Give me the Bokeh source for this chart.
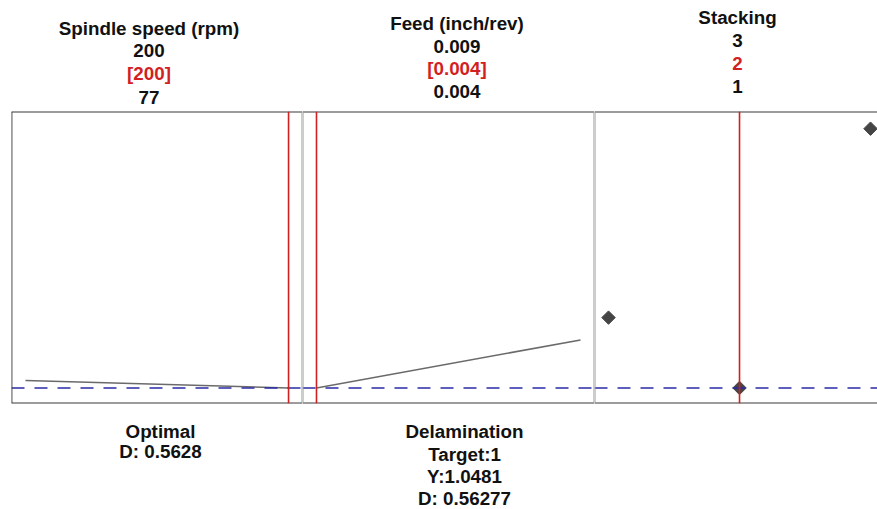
import numpy as np
from bokeh.plotting import figure
from bokeh.models import Range1d, Span, Label
from bokeh.layouts import row, column
from bokeh.embed import file_html
from bokeh.resources import INLINE

# ---------------- data ----------------
spindle_speed = [77, 200]
spindle_delam = [1.0568, 1.0481]
feed_rate = [0.004, 0.009]
feed_delam = [1.0481, 1.104]
stacking = [1, 2, 3]
stacking_delam = [1.130, 1.0481, 1.350]

current_spindle = 200
current_feed = 0.004
current_stacking = 2
current_y = 1.0481

spindle_header = ["Spindle speed (rpm)", "200", "[200]", "77"]
feed_header = ["Feed (inch/rev)", "0.009", "[0.004]", "0.004"]
stacking_header = ["Stacking", "3", "2", "1"]
optimal_lines = ["Optimal", "D: 0.5628"]
response_lines = ["Delamination", "Target:1", "Y:1.0481", "D: 0.56277"]

# ---------------- style / layout ----------------
Y_START, Y_END = 1.03, 1.37
W = 877
HEAD_H = 109
MAIN_H = 296
FOOT_H = 104
FONT = "Liberation Sans"
FSIZE = "18.8px"
BLACK = "#111111"
RED = "#d21f1f"
FRAME_COL = "#3a3a3a"
DIV_COL = "#999999"
CURVE_COL = "#6a6a6a"
DASH_COL = "#2a2aa8"
PT_COL = "#454545"


def bare(width, height, xr, yr, **kw):
    p = figure(width=width, height=height, output_backend="svg", toolbar_location=None,
               x_range=xr, y_range=yr, x_axis_type=None, y_axis_type=None, **kw)
    p.outline_line_color = None
    p.grid.visible = False
    p.background_fill_color = "white"
    p.border_fill_color = "white"
    return p


def make_panel(x_start, x_end, width, border_left):
    p = bare(width, MAIN_H, Range1d(x_start, x_end), Range1d(Y_START, Y_END),
             min_border_left=border_left, min_border_right=0,
             min_border_top=2, min_border_bottom=2)
    for yv in (Y_START, Y_END):
        p.add_layout(Span(location=yv, dimension="width", line_color=FRAME_COL, line_width=1.8))
    p.add_layout(Span(location=current_y, dimension="width", line_color=DASH_COL,
                      line_width=1.5, line_dash="13 10"))
    return p


def add_text(p, px, lines, ys, colors):
    for t, py, c in zip(lines, ys, colors):
        p.add_layout(Label(x=px, y=py, text=t, text_align="center",
                           text_baseline="middle", text_font=FONT, text_font_size=FSIZE,
                           text_font_style="bold", text_color=c))


# header / footer text strips (pixel-like coordinates)
head = bare(W, HEAD_H, Range1d(0, W), Range1d(HEAD_H, 0),
            min_border_left=0, min_border_right=0, min_border_top=0, min_border_bottom=0)
add_text(head, 148.5, spindle_header, [28, 50, 73, 97], [BLACK, BLACK, RED, BLACK])
add_text(head, 456.5, feed_header, [23, 46, 68, 91], [BLACK, BLACK, RED, BLACK])
add_text(head, 737, stacking_header, [17, 40, 63, 86], [BLACK, BLACK, RED, BLACK])

FOOT_TOP = HEAD_H + MAIN_H
foot = bare(W, FOOT_H, Range1d(0, W), Range1d(FOOT_TOP + FOOT_H, FOOT_TOP),
            min_border_left=0, min_border_right=0, min_border_top=0, min_border_bottom=0)
add_text(foot, 160, optimal_lines, [431, 451], [BLACK, BLACK])
add_text(foot, 464, response_lines, [431, 454, 476, 498], [BLACK] * 4)

# panel 1: spindle speed
pad1 = 0.053 * (max(spindle_speed) - min(spindle_speed))
p1 = make_panel(min(spindle_speed) - pad1, max(spindle_speed) + pad1, 302, 11)
p1.line(spindle_speed, spindle_delam, line_color=CURVE_COL, line_width=1.5)
p1.add_layout(Span(location=current_spindle, dimension="height", line_color=RED, line_width=1.6))
p1.add_layout(Span(location=p1.x_range.start, dimension="height", line_color=FRAME_COL, line_width=1.8))
p1.add_layout(Span(location=p1.x_range.end, dimension="height", line_color=DIV_COL, line_width=2))

# panel 2: feed
pad2 = 0.053 * (max(feed_rate) - min(feed_rate))
p2 = make_panel(min(feed_rate) - pad2, max(feed_rate) + pad2, 292, 0)
p2.line(feed_rate, feed_delam, line_color=CURVE_COL, line_width=1.5)
p2.add_layout(Span(location=current_feed, dimension="height", line_color=RED, line_width=1.6))
p2.add_layout(Span(location=p2.x_range.start, dimension="height", line_color=DIV_COL, line_width=2))
p2.add_layout(Span(location=p2.x_range.end, dimension="height", line_color=DIV_COL, line_width=2))

# panel 3: stacking
p3 = make_panel(min(stacking) - 0.107, min(stacking) - 0.107 + 283 / 131, 283, 0)
p3.scatter(stacking, stacking_delam, marker="square", angle=np.pi / 4, size=9.5,
           fill_color=PT_COL, line_color=PT_COL)
p3.add_layout(Span(location=current_stacking, dimension="height", line_color=RED, line_width=1.6))
p3.add_layout(Span(location=p3.x_range.start, dimension="height", line_color=DIV_COL, line_width=2))

layout = column(head, row(p1, p2, p3, spacing=0), foot, spacing=0)
open("out.html", "w").write(file_html(layout, INLINE))
